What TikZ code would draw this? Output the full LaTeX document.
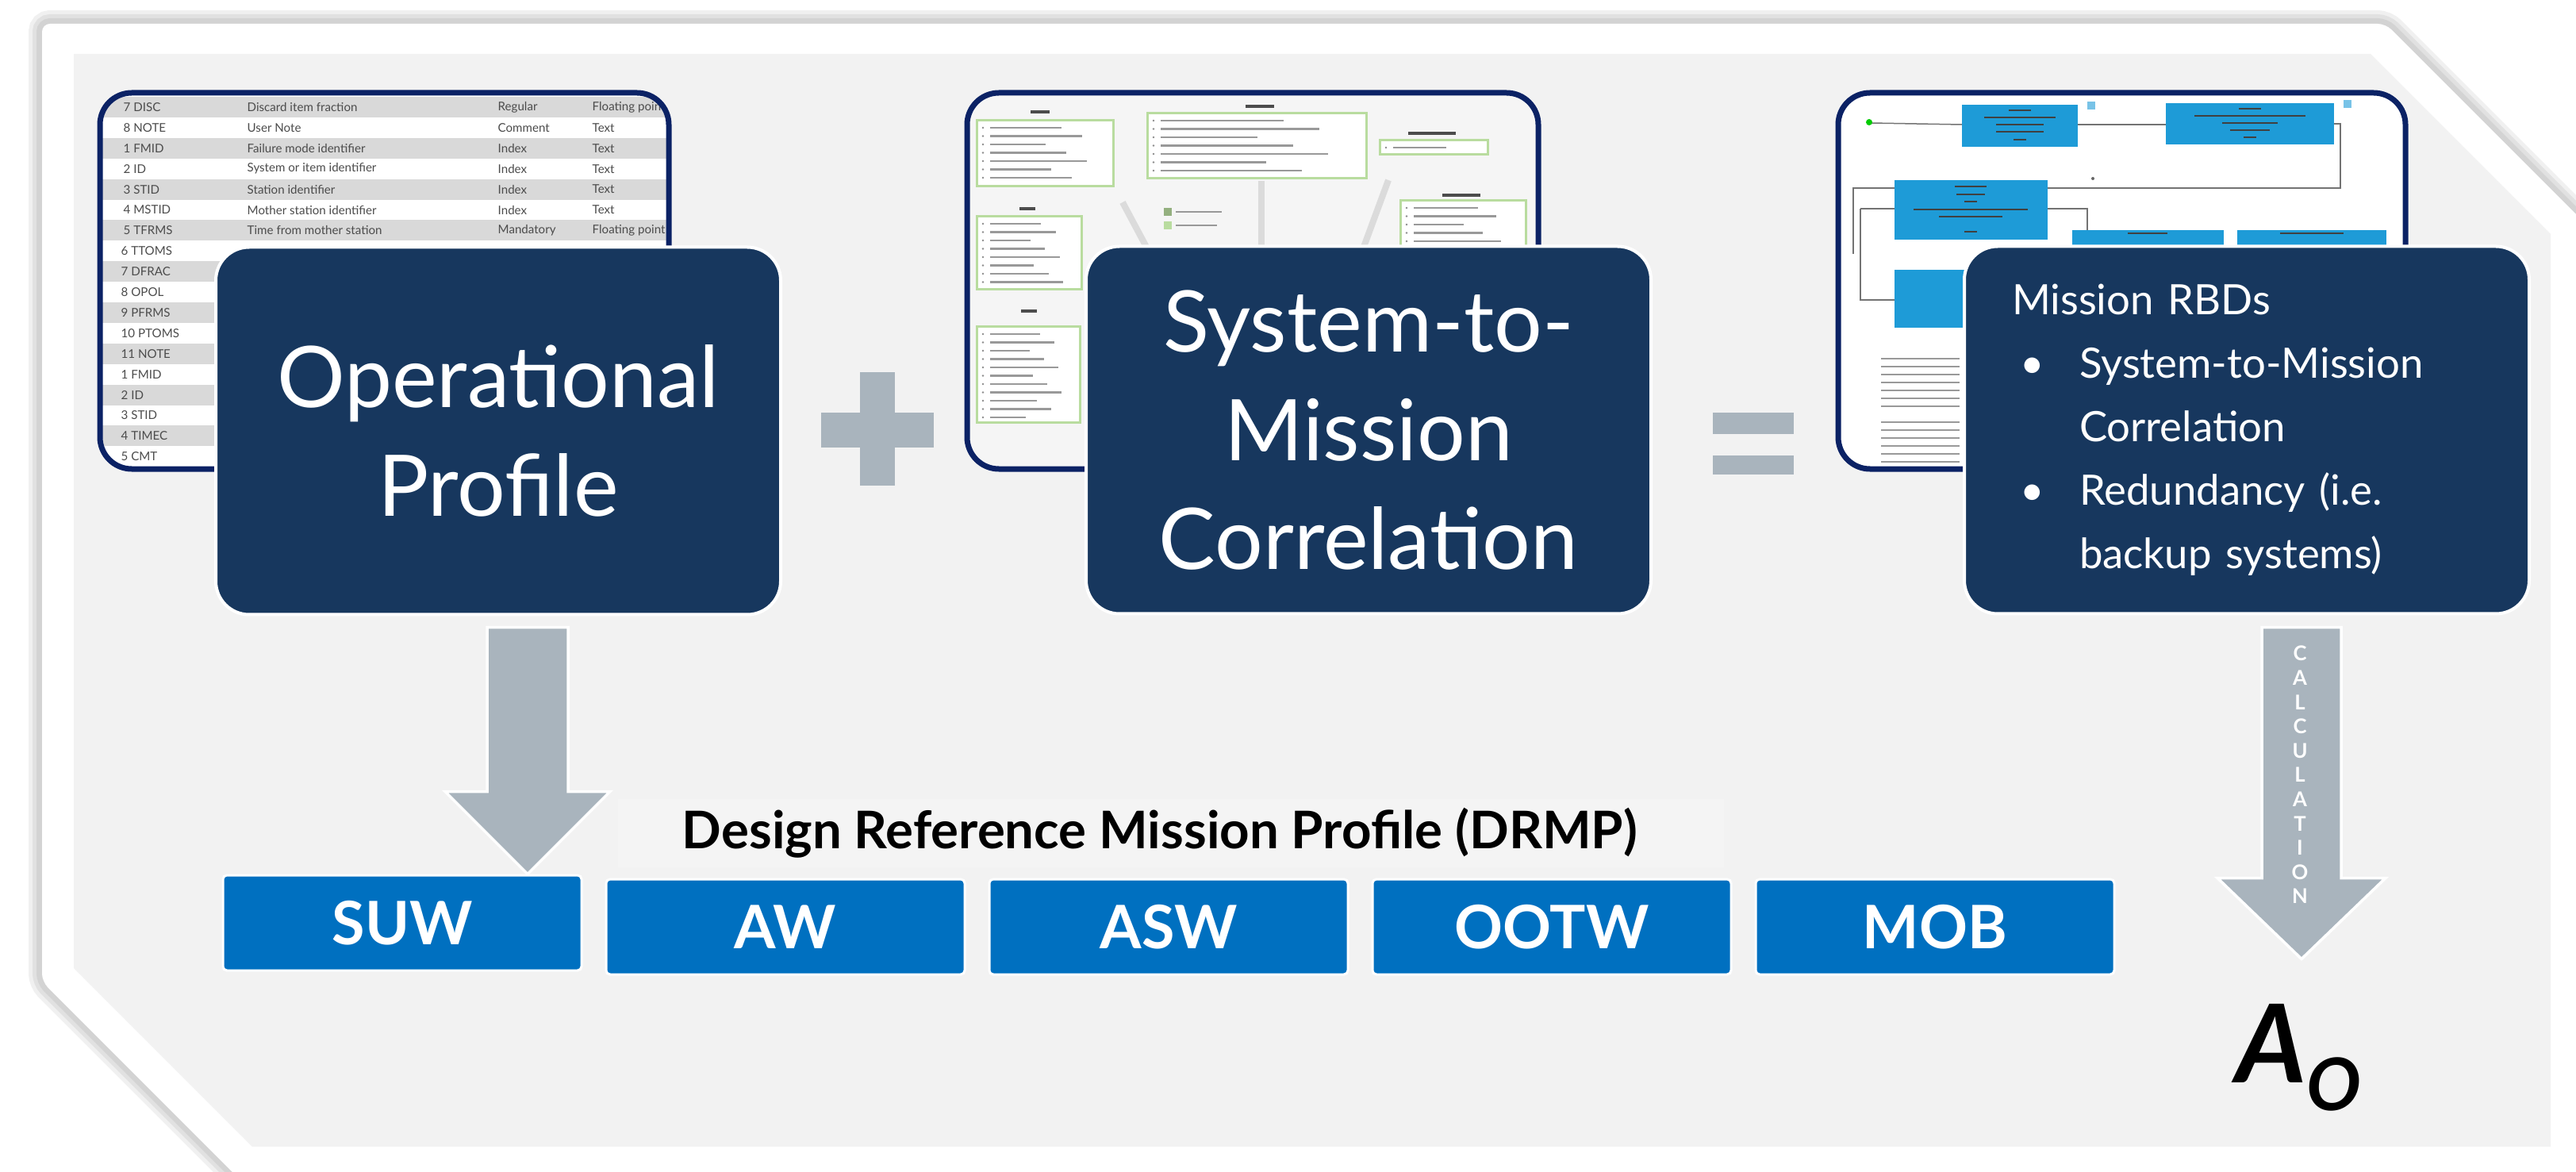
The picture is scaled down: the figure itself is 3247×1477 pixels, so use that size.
\documentclass[tikz,border=0pt]{standalone}
\usepackage{fontspec}
\setmainfont{Lato}
\usetikzlibrary{calc,positioning}

\definecolor{navybox}{HTML}{17375E}
\definecolor{navyline}{HTML}{0B2265}
\definecolor{arrowgray}{HTML}{A9B4BD}
\definecolor{missionblue}{HTML}{0070C0}
\definecolor{panelgray}{HTML}{F2F2F2}
\definecolor{rowgray}{HTML}{D9D9D9}
\definecolor{leafgreen}{HTML}{B9DC9F}
\definecolor{rbdblue}{HTML}{1E9BD7}

\begin{document}
\begin{tikzpicture}[x=0.1mm, y=-0.1mm,
         bigbox/.style={rounded corners=4.2mm, fill=navybox, draw=white, line width=0.4mm,
           minimum width=71.2mm, minimum height=46.3mm, text=white, align=center,
           font=\fontsize{30.5}{39}\selectfont},
         missionbox/.style={rounded corners=0.5mm, fill=missionblue, draw=white, line width=0.3mm,
           minimum width=45.2mm, minimum height=12mm, text=white,
           font=\fontsize{21.5}{24}\selectfont\bfseries},
         fatarrow/.style={fill=arrowgray, draw=white, line width=0.35mm},
         thumb/.style={draw=navyline, line width=0.7mm, rounded corners=4mm},
         leafbox/.style={fill=white, draw=leafgreen, line width=0.3mm},
         tabtext/.style={anchor=west, inner sep=0, text=black!70, font=\fontsize{4.3}{5}\selectfont},
         scribble/.style={black!40, line width=0.25mm}]
         \useasboundingbox (0,0) rectangle (3247,1477);
         \clip (0,0) rectangle (3247,1477);
         \fill[white] (0,0) rectangle (3247,1477);
         % panel with its soft shadow
         \foreach \w in {3.4,2.4,1.4}
           \draw[black, opacity=0.06, line width=\w mm, rounded corners=1mm]
             (53,30) -- (3007,30) -- (3262,285) -- (3262,1500) -- (316,1500) -- (53,1237) -- cycle;
         \fill[white, rounded corners=1mm]
             (53,30) -- (3007,30) -- (3262,285) -- (3262,1500) -- (316,1500) -- (53,1237) -- cycle;
         \fill[panelgray] (93,68) -- (2988,68) -- (3215,295) -- (3215,1445) -- (318,1445) -- (93,1220) -- cycle;

         % operational profile table
         \fill[white, rounded corners=4mm] (126,117) rectangle (843,591);
         \begin{scope}
           \clip[rounded corners=4mm] (126,117) rectangle (843,591);
           \foreach \i in {0,2,...,16}
             \fill[rowgray] (126,{122+25.9*\i}) rectangle (843,{148+25.9*\i});
           \foreach \i/\a/\b/\c/\d in {0/7 DISC/Discard item fraction/Regular/Floating point,
               1/8 NOTE/User Note/Comment/Text, 2/1 FMID/Failure mode identifier/Index/Text,
               3/2 ID/System or item identifier/Index/Text, 4/3 STID/Station identifier/Index/Text,
               5/4 MSTID/Mother station identifier/Index/Text,
               6/5 TFRMS/Time from mother station/Mandatory/Floating point} {
             \node[tabtext] (ta\i) at (155,{135+25.9*\i}) {\a};
             \node[tabtext] (tb\i) at (311,{135+25.9*\i}) {\b};
             \node[tabtext] (tc\i) at (627,{135+25.9*\i}) {\c};
             \node[tabtext] (td\i) at (746,{135+25.9*\i}) {\d};
           }
           \foreach \i/\a in {7/6 TTOMS, 8/7 DFRAC, 9/8 OPOL, 10/9 PFRMS, 11/10 PTOMS, 12/11 NOTE,
               13/1 FMID, 14/2 ID, 15/3 STID, 16/4 TIMEC, 17/5 CMT}
             \node[tabtext] (ta\i) at (152,{135+25.9*\i}) {\a};
         \end{scope}
         \draw[thumb] (126,117) rectangle (843,591);

         % capability map
         \fill[black!4, rounded corners=4mm] (1219,117) rectangle (1939,591);
         \draw[black!14, line width=0.8mm] (1415,255) -- (1455,330);
         \draw[black!14, line width=0.8mm] (1590,228) -- (1590,330);
         \draw[black!14, line width=0.8mm] (1750,227) -- (1712,330);
         \foreach \xa/\ya/\xb/\yb/\n in {1231/152/1403/235/7, 1446/143/1722/225/7, 1739/177/1875/195/1,
             1765/253/1923/330/6, 1231/273/1363/365/8, 1231/412/1361/533/11} {
           \draw[leafbox] (\xa,\ya) rectangle (\xb,\yb);
           \foreach \k in {1,...,\n} {
             \fill[black!45] ({\xa+8},{\ya+9+10.5*(\k-1)}) circle (1.3);
             \draw[scribble] ({\xa+17},{\ya+9+10.5*(\k-1)}) -- ({\xa+17+(\xb-\xa-30)*(0.45+0.5*mod(\k*37,11)/11)},{\ya+9+10.5*(\k-1)});
           }
         }
         \foreach \x/\y/\l in {1311/141/12, 1588/134/18, 1805/168/30, 1842/246/24, 1295/263/10, 1297/392/10}
           \draw[black!70, line width=0.4mm] ({\x-\l},\y) -- ({\x+\l},\y);
         \fill[leafgreen!80!black] (1467,262) rectangle (1477,272);
         \fill[leafgreen] (1467,279) rectangle (1477,289);
         \draw[scribble] (1482,267) -- (1540,267);
         \draw[scribble] (1482,284) -- (1534,284);
         \draw[thumb] (1219,117) rectangle (1939,591);

         % reliability block diagram
         \fill[white, rounded corners=4mm] (2317,117) rectangle (3032,591);
         \begin{scope}[black!55, line width=0.15mm]
           \draw (2358,155) -- (2473,157);
           \draw (2619,157) -- (2730,157);
           \draw (2942,156) -- (2950,156) -- (2950,237) -- (2336,237) -- (2336,320);
           \draw (2345,263) -- (2388,263);
           \draw (2581,263) -- (2631,263) -- (2631,290);
           \draw (2345,263) -- (2345,378) -- (2388,378);
         \end{scope}
         \fill[green!80!black] (2356,154) circle (4);
         \foreach \xa/\ya/\xb/\yb in {2473/132/2619/185, 2730/130/2942/182, 2388/227/2581/302,
             2612/290/2803/320, 2820/290/3008/320, 2388/340/2490/413}
           \fill[rbdblue] (\xa,\ya) rectangle (\xb,\yb);
         \fill[rbdblue!60] (2631,128) rectangle (2641,138);
         \fill[rbdblue!60] (2954,126) rectangle (2964,136);
         \foreach \x/\y/\l in {2546/139/14, 2546/148/45, 2546/157/30, 2546/166/30, 2546/176/8,
             2836/137/14, 2836/146/70, 2836/155/35, 2836/164/25, 2836/173/8,
             2484/235/20, 2484/245/18, 2484/254/8, 2484/264/72, 2484/273/40, 2484/292/8,
             2707/294/25, 2914/294/40}
           \draw[black!75, line width=0.2mm] ({\x-\l},\y) -- ({\x+\l},\y);
         \foreach \y in {452,462,...,512,532,542,...,582}
           \draw[scribble] (2371,\y) -- (2470,\y);
         \fill[black!60] (2638,225) circle (2);
         \draw[thumb] (2317,117) rectangle (3032,591);

         % main boxes
         \node[bigbox] (op) at (628,543) {Operational\\Profile};
         \node[bigbox] (stm) at (1725,542) {System-to-\\Mission\\Correlation};
         \node[bigbox, align=left, inner xsep=6mm, text width=59.2mm,
           font=\fontsize{15}{22.8}\selectfont] (rbd) at (2832,542)
           {Mission RBDs\\
            \makebox[1mm]{}\makebox[7.5mm][l]{\textbullet}System-to-Mission\\
            \makebox[8.5mm]{}Correlation\\
            \makebox[1mm]{}\makebox[7.5mm][l]{\textbullet}Redundancy (i.e.\\
            \makebox[8.5mm]{}backup systems)};

         % plus and equals
         \fill[arrowgray] (1084,469) rectangle (1128,612);
         \fill[arrowgray] (1035,520) rectangle (1177,564);
         \fill[arrowgray] (2159,520) rectangle (2261,547);
         \fill[arrowgray] (2159,574) rectangle (2261,598);

         % mission profile row
         \node[fill=black!4.5, minimum width=139.4mm, minimum height=8.6mm,
           font=\fontsize{18.6}{20}\selectfont\bfseries] (drmp) at (1476,1050)
           {\hspace*{-2.8mm}Design Reference Mission Profile (DRMP)};
         \node[missionbox] (suw) at (507,1163) {SUW};
         \node[missionbox, right=2.8mm of suw, yshift=-0.5mm] (aw) {AW};
         \node[missionbox, right=2.8mm of aw] (asw) {ASW};
         \node[missionbox, right=2.8mm of asw] (ootw) {OOTW};
         \node[missionbox, right=2.8mm of ootw] (mob) {MOB};

         % arrows
         \coordinate (opfoot) at ($(op.south)+(37,14)$);
         \coordinate (optip) at (opfoot |- suw.north);
         \draw[fatarrow] ($(opfoot)+(-51,0)$) -- ($(optip)+(-51,-104)$) -- ($(optip)+(-104,-104)$)
           -- (optip) -- ($(optip)+(104,-104)$) -- ($(optip)+(51,-104)$) -- ($(opfoot)+(51,0)$) -- cycle;
         \coordinate (calcfoot) at ($(rbd.south)+(69,15)$);
         \coordinate (calctip) at ($(calcfoot)+(0,418)$);
         \draw[fatarrow] ($(calcfoot)+(-50,0)$) -- ($(calctip)+(-50,-102)$) -- ($(calctip)+(-106,-102)$)
           -- (calctip) -- ($(calctip)+(106,-102)$) -- ($(calctip)+(50,-102)$) -- ($(calcfoot)+(50,0)$) -- cycle;
         \node[text=white, align=center, inner sep=0, font=\fontsize{7.3}{8.7}\selectfont\bfseries]
           (calc) at ($(calcfoot)+(-2,186)$) {C\\A\\L\\C\\U\\L\\A\\T\\I\\O\\N};
         \node[anchor=base west, inner sep=0, font=\fontsize{39}{39}\selectfont\bfseries\itshape]
           (ao) at (2818,1364) {A\raisebox{-10pt}{\fontsize{26}{26}\selectfont O}};
        \end{tikzpicture}
\end{document}
